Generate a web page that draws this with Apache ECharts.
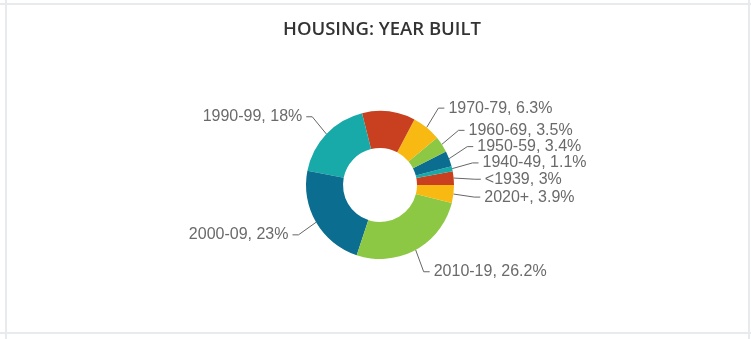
<!DOCTYPE html>
<html>
<head>
<meta charset="utf-8">
<script src="https://cdn.jsdelivr.net/npm/echarts@6/dist/echarts.min.js"></script>
<style>
  html, body { margin: 0; padding: 0; background: #fff; }
  #wrap { position: relative; width: 751px; height: 339px; overflow: hidden; }
  #chart { position: absolute; left: 0; top: 0; width: 751px; height: 339px; }
  .rule { position: absolute; background: #e7ebee; }
</style>
</head>
<body>
<div id="wrap">
  <div class="rule" style="left:0;top:3px;width:751px;height:2px;"></div>
  <div class="rule" style="left:0;top:332px;width:751px;height:2px;"></div>
  <div class="rule" style="left:5px;top:0;width:2px;height:339px;"></div>
  <div class="rule" style="left:748px;top:0;width:2px;height:339px;"></div>
  <div id="chart"></div>
</div>
<script>
// Housing stock by decade of construction (share of units, %)
const periods = ['<1939', '1940-49', '1950-59', '1960-69', '1970-79',
                 '1980-89', '1990-99', '2000-09', '2010-19', '2020+'];
const shares = [3, 1.1, 3.4, 3.5, 6.3, 11.6, 18, 23, 26.2, 3.9];
const sliceColors = ['#c8401f', '#17aaa8', '#0b6e90', '#8cc844', '#f8b912'];
// the 1980s slice carries no callout
const hiddenLabels = ['1980-89'];

const CENTER = [380, 185];
const RADIUS = [37, 74];
const LINE_LEN = 25;     // radial reach of a callout before it turns
const ROW = 16.3;        // vertical pitch of stacked callouts
const TEXT_PAD = 6;      // gap between the callout ring and the text
const TAIL = 6;          // horizontal tail of the connector

const chart = echarts.init(document.getElementById('chart'));

function buildOption(labelLayout) {
  return {
    animation: false,
    title: {
      text: 'HOUSING: YEAR BUILT',
      left: 377,
      textAlign: 'center',
      top: 15,
      textStyle: { fontFamily: 'Open Sans', fontWeight: 600, fontSize: 18.5, color: '#333' }
    },
    series: [{
      type: 'pie',
      center: CENTER,
      radius: RADIUS,
      startAngle: 0,
      clockwise: false,
      avoidLabelOverlap: false,
      label: {
        formatter: p => p.name + ', ' + p.value + '%',
        fontFamily: 'Liberation Sans',
        fontSize: 16,
        color: '#6a6a6a'
      },
      labelLine: {
        length: LINE_LEN,
        length2: TAIL,
        lineStyle: { color: '#666', width: 1 }
      },
      labelLayout: labelLayout,
      data: periods.map((name, i) => ({
        name: name,
        value: shares[i],
        itemStyle: { color: sliceColors[i % sliceColors.length] },
        label: { show: hiddenLabels.indexOf(name) < 0 },
        labelLine: { show: hiddenLabels.indexOf(name) < 0 }
      }))
    }]
  };
}

// First pass: let the pie place each callout radially and remember where.
const natural = {};
chart.setOption(buildOption(p => {
  if (p.labelLinePoints) natural[p.dataIndex] = p.labelLinePoints.map(pt => pt.slice());
  return {};
}));

// Stack the callouts on each side so they keep a fixed pitch, centring each
// crowded group on the positions its members would take on their own.
const placedY = {};
[1, -1].forEach(dir => {
  const items = Object.keys(natural).map(Number)
    .filter(i => (natural[i][1][0] - CENTER[0]) * dir > 0)
    .map(i => ({ i: i, t: natural[i][1][1] }))
    .sort((a, b) => a.t - b.t);
  let groups = items.map(it => ({ items: [it], top: it.t }));
  let merged = true;
  while (merged) {
    merged = false;
    for (let k = 0; k < groups.length - 1; k++) {
      const a = groups[k], b = groups[k + 1];
      if (a.top + a.items.length * ROW > b.top) {
        const all = a.items.concat(b.items);
        let sum = 0;
        all.forEach((it, j) => { sum += it.t - j * ROW; });
        groups.splice(k, 2, { items: all, top: sum / all.length });
        merged = true;
        break;
      }
    }
  }
  groups.forEach(g => g.items.forEach((it, j) => { placedY[it.i] = g.top + j * ROW; }));
});

// Second pass: put each text on the callout ring at its stacked height and
// bend the connector from the slice edge to it.
chart.setOption(buildOption(p => {
  const pts = natural[p.dataIndex];
  if (!pts || placedY[p.dataIndex] == null) return {};
  const edge = pts[0];
  const ring = Math.hypot(pts[1][0] - CENTER[0], pts[1][1] - CENTER[1]);
  const dir = pts[1][0] >= CENTER[0] ? 1 : -1;
  const y = placedY[p.dataIndex];
  const dy = Math.min(Math.abs(y - CENTER[1]), ring);
  const reach = Math.sqrt(ring * ring - dy * dy);
  const textX = CENTER[0] + dir * (reach + TEXT_PAD);
  const endX = textX - dir * 4;
  let bendX = endX - dir * TAIL;
  if ((bendX - edge[0]) * dir < 2) bendX = edge[0] + dir * 2;
  return {
    x: textX,
    y: y,
    align: dir > 0 ? 'left' : 'right',
    verticalAlign: 'middle',
    labelLinePoints: [edge, [bendX, y], [endX, y]]
  };
}), true);
</script>
</body>
</html>
